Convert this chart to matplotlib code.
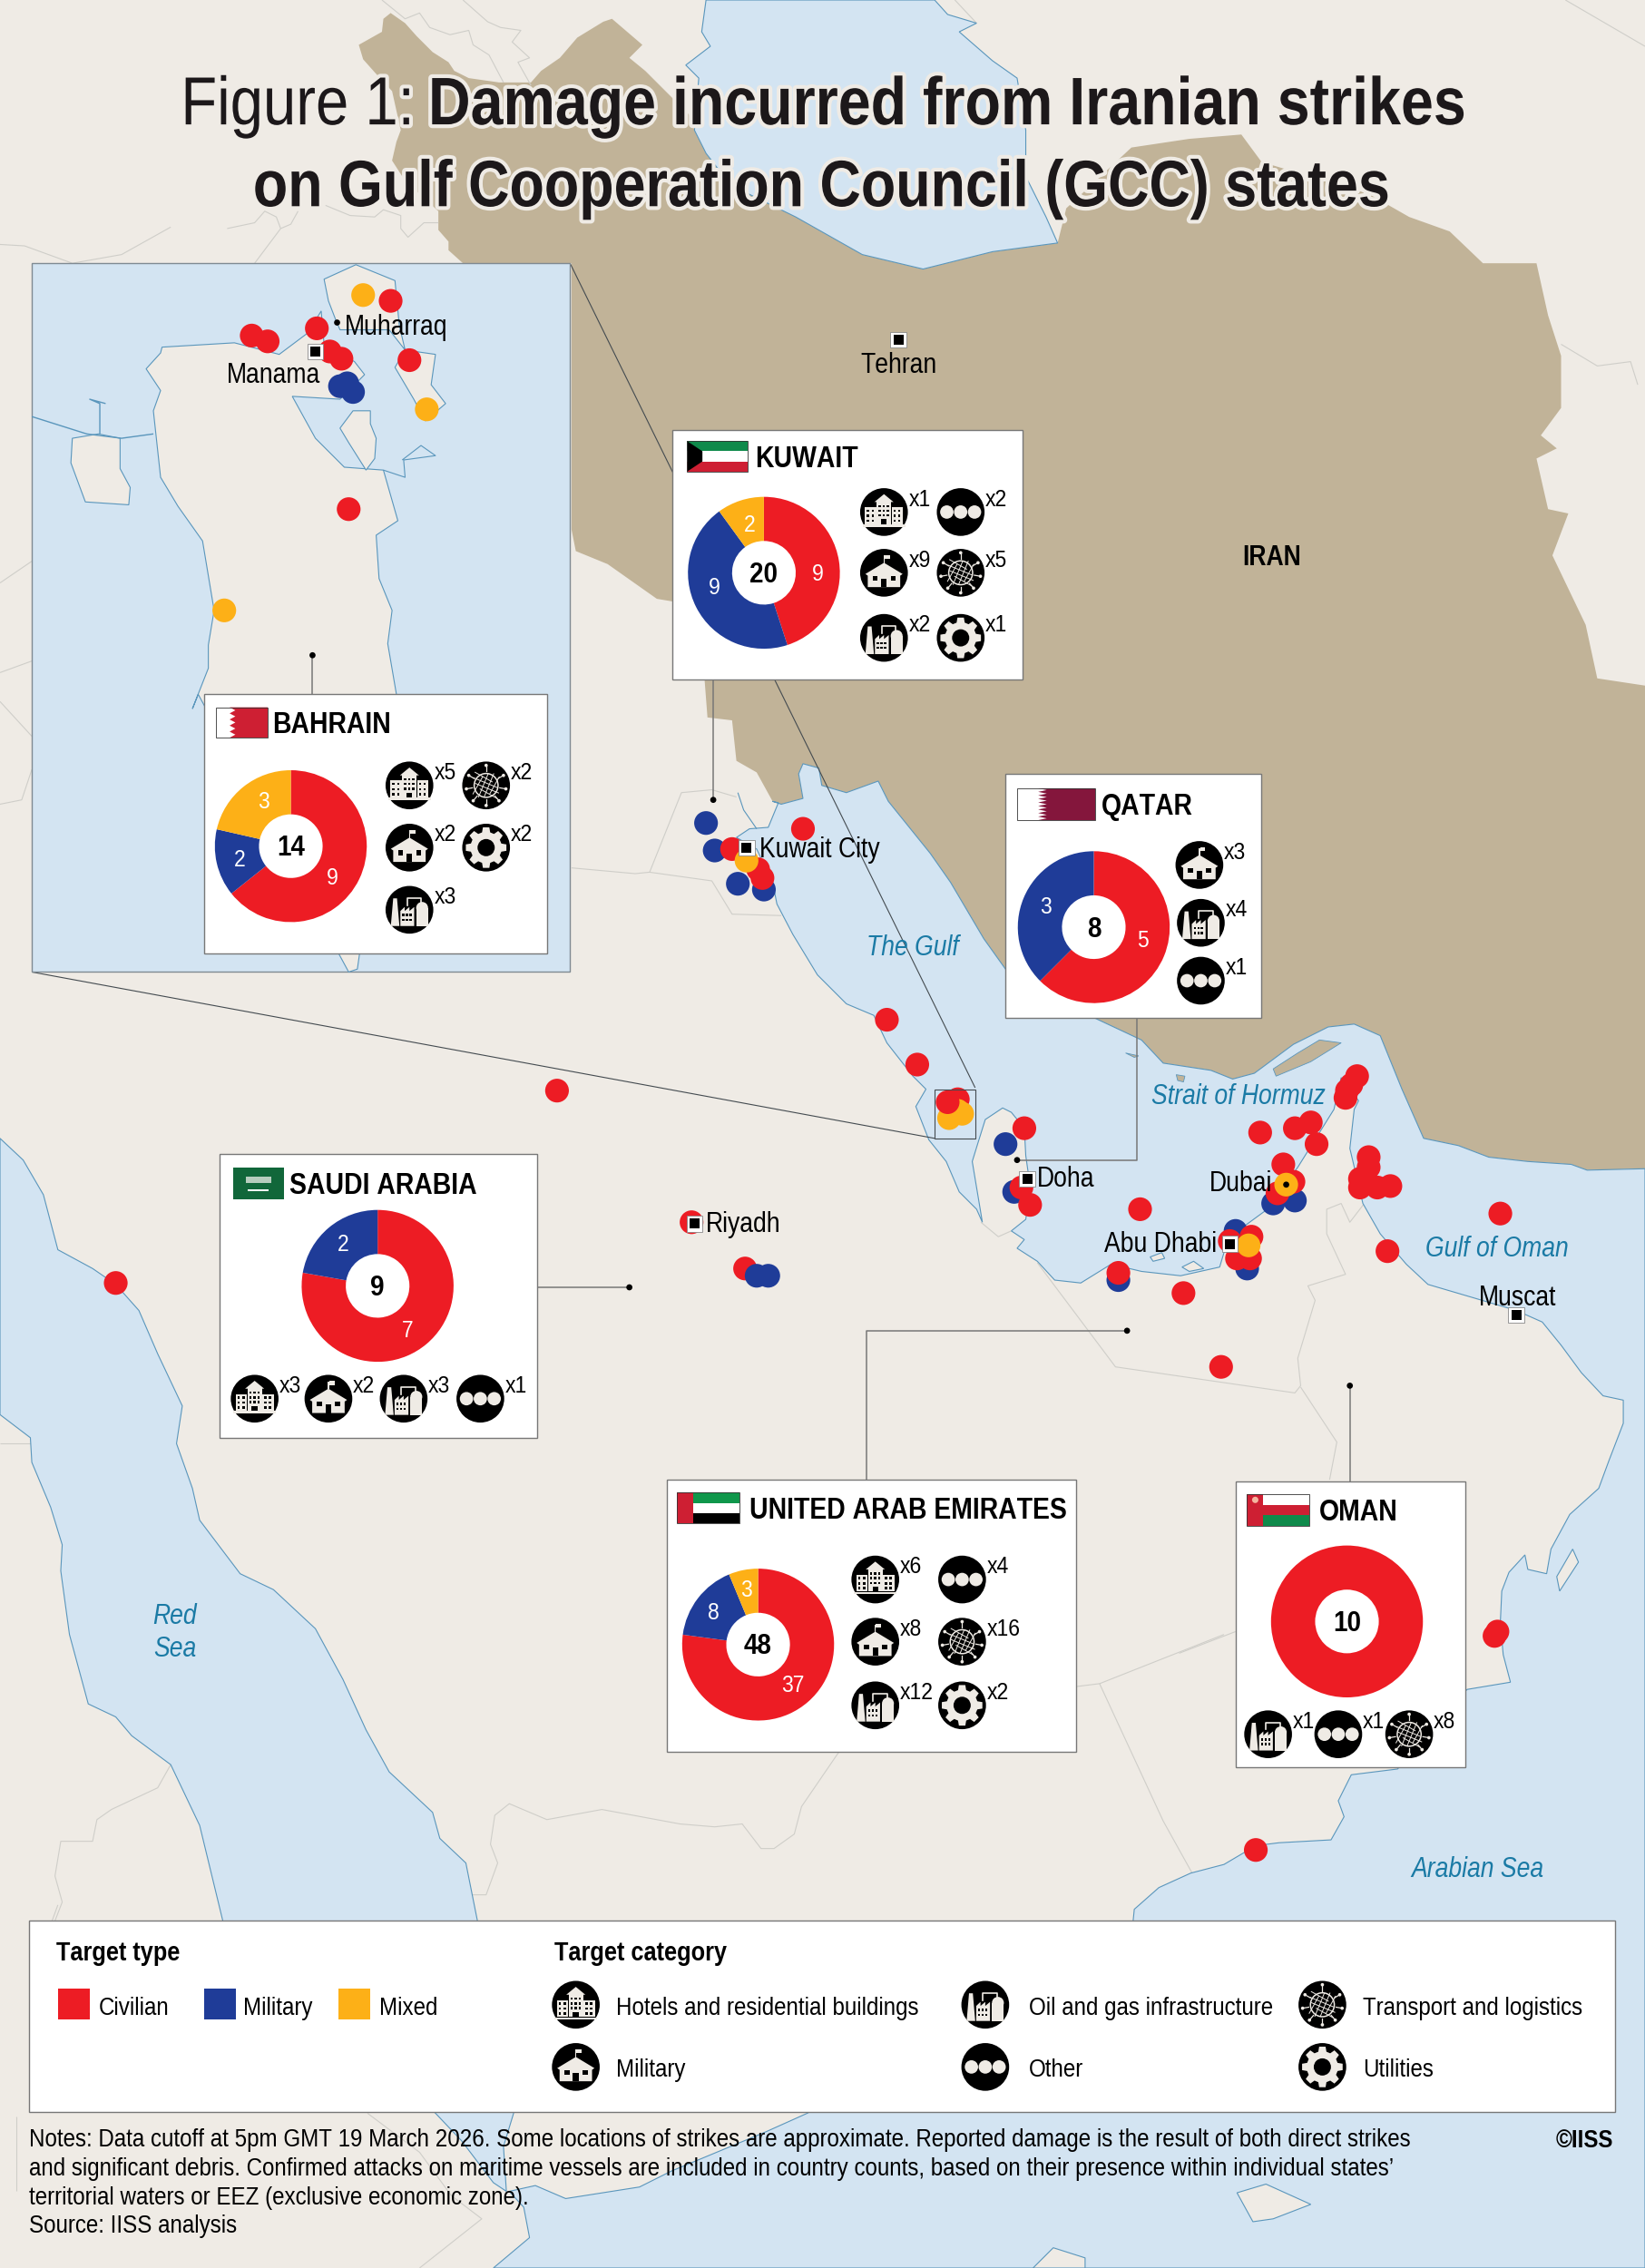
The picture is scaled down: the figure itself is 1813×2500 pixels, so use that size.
import numpy as np
import matplotlib
matplotlib.use('Agg')
import matplotlib.pyplot as plt
from matplotlib import font_manager as fm
from matplotlib.patches import Polygon, Circle, Rectangle, Wedge
import matplotlib.patheffects as pe

# Condensed face built from Liberation Sans, since no narrow family is installed
NARROW = ['Liberation Sans', 'DejaVu Sans']
try:
    from fontTools.ttLib import TTFont
    from fontTools.pens.ttGlyphPen import TTGlyphPen
    from fontTools.pens.transformPen import TransformPen
    from fontTools.pens.recordingPen import DecomposingRecordingPen
    SX = 0.87
    for tag, kw in (('r', dict(weight='normal', style='normal')), ('b', dict(weight='bold', style='normal')), ('i', dict(weight='normal', style='italic'))):
        path = fm.findfont(fm.FontProperties(family='Liberation Sans', **kw), fallback_to_default=False)
        f = TTFont(path)
        gs = f.getGlyphSet(); glyf = f['glyf']; hmtx = f['hmtx']
        new = {}
        for name in f.getGlyphOrder():
            rec = DecomposingRecordingPen(gs); gs[name].draw(rec)
            pen = TTGlyphPen(None); rec.replay(TransformPen(pen, (SX, 0, 0, 1, 0, 0)))
            new[name] = pen.glyph()
        for name, g in new.items():
            glyf[name] = g
            adv, lsb = hmtx[name]
            hmtx[name] = (int(round(adv * SX)), int(round(lsb * SX)))
        for t in ('fpgm', 'prep', 'cvt ', 'kern', 'GPOS', 'GSUB', 'GDEF', 'hdmx', 'VDMX', 'LTSH', 'gasp'):
            if t in f: del f[t]
        for rec in f['name'].names:
            if rec.nameID in (1, 16): rec.string = 'LibCond'
            elif rec.nameID == 4: rec.string = 'LibCond ' + tag
            elif rec.nameID == 6: rec.string = 'LibCond-' + tag
        f.save(f'libcond_{tag}.ttf')
        fm.fontManager.addfont(f'libcond_{tag}.ttf')
    NARROW = ['LibCond', 'Liberation Sans', 'DejaVu Sans']
except Exception:
    pass

LAND, WATER, IRAN = '#EFEBE5', '#D3E4F2', '#C1B398'
COAST, BORDER = '#5A96BC', '#CFCEC9'
RED, BLUE, AMBER = '#ED1C24', '#1F3C98', '#FDB017'
SEA_TXT = '#1A7AA5'
TYPE_COLOR = {'c': RED, 'm': BLUE, 'x': AMBER}

# ---- map outlines ----
iran_north = [(248,31),(264,22),(265,13),(270,9),(280,16),(288,25),(299,36),(310,43),(314,49),(324,54),(345,57),(367,57),(374,49),(387,40),(399,26),(417,15),(423,13),(444,31),(435,40),(446,49),
 (477,80),(480,90),(488,106),(505,128),(550,150),(596,176),(638,186),(686,174),(731,168),(737,144),(782,102),(822,96),(858,93),
 (872,112),(946,134),(974,150),(1002,160),(1025,182),(1062,182),(1070,218),(1079,246),(1079,282),(1065,301),(1076,310),(1062,317),
 (1070,352),(1084,355),(1073,384),(1096,432),(1104,469),(1137,474)]
iran_west = [(251,41),(259,50),(271,63),(277,90),(274,98),(271,111),(280,125),(303,146),(303,159),(310,167),(310,173),(320,182),(395,182),(395,366),(398,381),(420,390),(454,414),(466,416),(487,470),(489,496),(506,498),(509,526),(523,534)]
iran_coast = [(534,554),(540,556),(555,552),(552,535),(555,528),(566,531),(568,543),(585,548),(607,540),(614,554),(643,590),(657,610),(680,649),(695,670),
 (757,704),(789,719),(804,735),(837,740),(852,746),(867,742),(894,722),(918,710),(936,708),(954,716),(969,753),(984,787),(1008,792),(1029,800),(1056,803),(1086,805),(1097,809),(1137,808)]
arabia_coast = [(1137,1568),(341,1568),(366,1547),(362,1526),(352,1515),(370,1511),(391,1520),(442,1512),(464,1501),(529,1474),(558,1461),(783,1330),(784,1320),(801,1305),(823,1295),(846,1289),
 (868,1276),(884,1274),(920,1272),(929,1256),(925,1245),(934,1227),(966,1223),(1014,1168),(1044,1163),(1039,1144),(1037,1122),(1038,1100),(1043,1087),(1054,1075),(1056,1085),(1069,1088),
 (1072,1071),(1085,1047),(1105,1029),(1112,1010),(1122,984),(1122,968),(1108,965),(1093,949),(1079,930),(1066,914),(1048,906),(1021,898),(987,888),(972,874),(954,853),(942,832),(933,794),
 (936,767),(939,761),(927,745),(922,767),(897,807),(876,836),(861,847),(846,866),(843,876),(816,882),(789,879),(768,874),(747,887),(729,885),(717,872),(703,863),(708,857),(699,851),
 (709,843),(712,820),(709,799),(708,780),(699,769),(693,766),(681,774),(676,790),(672,803),(679,845),(675,836),(663,824),(654,803),(642,788),(633,765),(640,753),(631,744),(613,721),(604,702),(585,694),
 (565,674),(548,646),(537,625),(534,610),(523,587),(509,579),(518,573),(531,572),(538,555)]
red_sea = [(0,787),(16,802),(30,826),(40,864),(64,877),(80,888),(96,906),(109,936),(126,972),(122,998),(133,1029),(138,1051),(166,1088),(189,1099),(218,1126),(237,1161),(253,1196),(269,1225),
 (299,1253),(304,1271),(322,1288),(330,1328),(355,1461),(348,1484),(350,1515),(341,1509),(319,1480),(301,1461),(154,1328),(138,1262),(118,1220),(91,1200),(80,1187),(61,1178),(48,1130),(42,1086),(43,1068),(35,1042),(22,1011),(21,994),(0,978)]
caspian = [(488,0),(485,22),(491,32),(474,45),(483,54),(480,90),(488,106),(505,128),(550,150),(596,176),(638,186),(686,174),(731,168),(723,150),(709,122),(709,90),(703,54),(686,42),(663,22),(675,16),(655,10),(646,0)]
land_islands = [[(855,1516),(875,1510),(906,1524),(880,1534),(866,1536)],
 [(1087,1071),(1091,1080),(1078,1100),(1076,1090)],[(714,1568),(728,1554),(750,1561),(750,1568)],
 [(817,876),(825,872),(832,877),(822,879)],[(795,869),(803,866),(805,870),(797,872)]]
iran_islands = [[(880,739),(897,728),(912,719),(927,721),(906,734),(882,744)],[(813,743),(819,744),(818,748),(814,747)],[(778,728),(787,730),(784,731)]]
kuwait_bay = [(510,548),(514,560),(523,573)]
borders = [
 [(0,169),(17,170),(50,182),(84,176),(118,157)],[(157,158),(176,154),(183,146),(191,150),(194,158),(176,182)],[(194,158),(201,155),(206,146)],
 [(225,142),(242,149),(259,150),(265,145),(277,149),(277,158),(282,164),(293,154),(303,154)],
 [(264,0),(280,13),(290,9),(297,19),(311,24),(324,21),(327,31),(338,38),(348,57)],
 [(320,0),(337,15),(346,19),(360,21),(354,29),(366,40),(358,43),(367,59)],
 [(0,403),(22,388)],[(0,465),(22,457)],[(0,485),(22,509)],[(0,556),(15,553),(22,532)],
 [(395,600),(439,604),(449,603),(471,548),(492,546),(509,551)],[(449,603),(492,609),(506,632),(540,633)],
 [(678,845),(690,855),(699,851)],
 [(717,873),(771,945),(895,963),(899,958),(897,939),(909,899),(904,889),(930,881),(917,853),(917,836),(927,832),(933,845),(943,832)],
 [(899,959),(924,997),(919,1023)],[(815,1143),(854,1128)],[(744,1166),(760,1164),(846,1130)],[(760,1164),(804,1259),(824,1295)],
 [(580,1211),(554,1249),(549,1268),(535,1278),(526,1278),(513,1261),(494,1263),(470,1261),(416,1251),(378,1258),(352,1247),(342,1255),(339,1275),(344,1288),(336,1310),(326,1310)],
 [(0,998),(22,998)],[(118,1220),(109,1236),(77,1251),(67,1258),(64,1273),(42,1273),(38,1297),(43,1315),(38,1328)],
 [(254,1461),(290,1488),(312,1518),(333,1534),(290,1568)],[(40,1317),(36,1328)],[(11,1463),(11,1515)],
 [(1082,0),(1137,32)],[(1079,238),(1104,253),(1127,250),(1132,266)],[(660,0),(675,16)],
]
# ---- inset outlines (Bahrain) ----
bahrain_main = [(112,240),(162,237),(193,245),(213,230),(222,215),(224,238),(245,250),(252,259),(235,276),(202,274),(218,303),(238,323),(265,325),(275,360),(260,370),(262,400),(271,422),(268,445),(274,480),
 (247,670),(247,670),(241,672),(137,480),(133,490),(144,462),(144,446),(148,422),(144,398),(140,374),(123,350),(111,330),(106,284),(111,270),(101,255),(111,244)]
muharraq = [(224,193),(246,183),(273,194),(276,225),(280,242),(301,245),(298,266),(308,279),(294,291),(286,276),(273,254),(280,242),(269,228),(235,228),(232,221),(227,208)]
sitra = [(235,296),(244,284),(256,284),(256,293),(260,303),(259,317),(253,325),(241,306)]
umm_nasan = [(50,303),(68,300),(83,303),(83,324),(90,337),(89,349),(59,347),(49,320)]
causeway = [(22,288),(60,300),(84,303),(106,300)]
nabih = [(69,300),(69,279),(62,276),(73,279)]
sitra_spit = [(265,325),(280,330),(279,318),(301,315),(291,308),(278,318)]
# ---- strikes ----
inset_x = [251,270,174,185,219,228,236,235,240,244,283,295,241,155]
inset_y = [204,208,232,236,227,243,248,267,265,271,249,283,352,422]
inset_t = ['x','c','c','c','c','c','c','m','m','m','c','x','c','x']
strike_x = [488,494,510,528,506,524,527,516,555,613,634,
            662,662,665,656,655,708,695,701,706,712,788,871,895,906,910,887,880,895,894,883,889,
            938,934,930,931,946,946,940,940,952,961,1037,959,
            854,862,850,865,855,864,863,773,773,818,844,385,478,515,523,531,80,1035,1033,868]
strike_y = [569,588,611,615,587,601,607,595,573,705,736,
            760,768,770,773,762,780,791,824,821,833,836,783,780,776,791,805,832,830,817,825,819,
            744,750,759,754,800,807,815,821,821,820,839,865,
            851,877,858,855,870,870,861,885,880,894,945,754,845,877,882,882,887,1128,1131,1279]
strike_t = ['m','m','m','m','c','c','c','x','c','c','c',
            'c','x','x','x','c','c','m','m','c','c','c','c','c','c','c','c','m','m','c','c','x',
            'c','c','c','c','c','c','c','c','c','c','c','c',
            'm','m','c','c','c','c','x','m','c','c','c','c','c','c','m','m','c','c','c','c']
# ---- country panels ----
kuwait_vals = [9,9,2]; bahrain_vals = [9,2,3]; qatar_vals = [5,3,0]; saudi_vals = [7,2,0]; uae_vals = [37,8,3]; oman_vals = [10,0,0]
kuwait_cats = ['hotel','other','military','transport','oil','gear']; kuwait_n = [1,2,9,5,2,1]
bahrain_cats = ['hotel','transport','military','gear','oil']; bahrain_n = [5,2,2,2,3]
qatar_cats = ['military','oil','other']; qatar_n = [3,4,1]
saudi_cats = ['hotel','military','oil','other']; saudi_n = [3,2,3,1]
uae_cats = ['hotel','other','military','transport','oil','gear']; uae_n = [6,4,8,16,12,2]
oman_cats = ['oil','other','transport']; oman_n = [1,1,8]
legend_types = ['Civilian','Military','Mixed']
legend_cats = ['Hotels and residential buildings','Military','Oil and gas infrastructure','Other','Transport and logistics','Utilities']

fig = plt.figure(figsize=(18.13,25), dpi=100, facecolor=LAND)
ax = fig.add_axes([0,0,1,1]); ax.set_xlim(0,1137); ax.set_ylim(1568,0); ax.axis('off')

def T(x,y,s,size=22,weight='normal',color='k',ha='left',va='center',style='normal',z=30,halo=None,family=None):
    t = ax.text(x,y+size*0.07,s,fontsize=size,fontweight=weight,color=color,ha=ha,va=va,style=style,zorder=z,family=family or NARROW)
    if halo: t.set_path_effects([pe.withStroke(linewidth=halo,foreground=LAND)])
    return t
def P(pts,fc,ec='none',lw=0,z=1):
    ax.add_patch(Polygon(pts,closed=True,fc=fc,ec=ec,lw=lw,zorder=z))
def L(pts,c=BORDER,lw=0.8,z=2):
    a=np.array(pts); ax.plot(a[:,0],a[:,1],color=c,lw=lw,zorder=z,solid_capstyle='butt')

# base map
for b in borders: L(b)
P(iran_north+[(1137,808)]+iran_coast[::-1]+iran_west[::-1],IRAN,z=1)
P(iran_coast+arabia_coast,WATER,COAST,0.8,z=3)
P(red_sea,WATER,COAST,0.8,z=3)
P(caspian,WATER,COAST,0.8,z=3)
L(kuwait_bay,COAST,0.8,z=4)
for i in land_islands: P(i,LAND,COAST,0.8,z=4)
for i in iran_islands: P(i,IRAN,COAST,0.6,z=4)
for a,b,c in zip(strike_x,strike_y,strike_t):
    ax.add_patch(Circle((a,b),8.2,fc=TYPE_COLOR[c],ec='none',zorder=6))

# inset
ax.add_patch(Rectangle((22,182),372,490,fc=WATER,ec='#7F8A92',lw=1,zorder=10))
for poly in (bahrain_main,muharraq,sitra,umm_nasan):
    P(poly,LAND,COAST,0.8,z=11)
L(causeway,COAST,1.0,z=11); L(nabih,COAST,1.0,z=11); L(sitra_spit,COAST,0.8,z=11)
for a,b,c in zip(inset_x,inset_y,inset_t):
    ax.add_patch(Circle((a,b),8.2,fc=TYPE_COLOR[c],ec='none',zorder=12))

# leaders
LEAD='#444B50'
L([(394,182),(674,752)],LEAD,0.8,z=7)
L([(22,672),(646,787)],LEAD,0.8,z=7)
ax.add_patch(Rectangle((646,753),28,34,fc='none',ec=LEAD,lw=0.8,zorder=7))
L([(493,470),(493,553)],'#777',1.1,z=7); L([(216,453),(216,480)],'#777',1.1,z=13)
L([(786,704),(786,802),(703,802)],'#777',1.1,z=7); L([(371,890),(435,890)],'#777',1.1,z=7)
L([(599,1023),(599,920),(779,920)],'#777',1.1,z=7); L([(933,1024),(933,958)],'#777',1.1,z=7)
for p in [(493,553),(703,802),(435,890),(779,920),(933,958),(889,819)]:
    ax.add_patch(Circle(p,2.1,fc='k',zorder=8))
ax.add_patch(Circle((216,453),2.1,fc='k',zorder=14)); ax.add_patch(Circle((233,223),2.1,fc='k',zorder=14))

def city(x,y,z=9):
    ax.add_patch(Rectangle((x-5.5,y-5.5),11,11,fc='white',ec='#888',lw=0.6,zorder=z))
    ax.add_patch(Rectangle((x-3.4,y-3.4),6.8,6.8,fc='k',zorder=z+0.1))
for c in [(516,586),(480,846),(710,815),(850,860),(1048,909),(621,235)]: city(*c)
city(218,243,z=14)

LBL=22
T(621,251,'Tehran',LBL,ha='center'); T(879,384,'IRAN',LBL,'bold',ha='center')
T(525,586,'Kuwait City',LBL); T(157,258,'Manama',LBL); T(238,225,'Muharraq',LBL)
T(717,814,'Doha',LBL); T(836,817,'Dubai',LBL); T(763,859,'Abu Dhabi',LBL); T(488,845,'Riyadh',LBL); T(1049,896,'Muscat',LBL,ha='center')
for x,y,s in [(631,654,'The Gulf'),(856,757,'Strait of Hormuz'),(1035,862,'Gulf of Oman'),(121,1116,'Red'),(121,1139,'Sea'),(1021,1291,'Arabian Sea')]:
    T(x,y,s,LBL,color=SEA_TXT,style='italic',ha='center')

# title
INK='#1C181A'
T(125,70,'Figure 1:',54,'normal',ha='left',halo=6,color=INK)
T(296,70,'Damage incurred from Iranian strikes',53.4,'bold',ha='left',halo=6,color=INK)
T(568,127,'on Gulf Cooperation Council (GCC) states',52,'bold',ha='center',halo=6,color=INK)

G=LAND
def icon(kind,cx,cy,r=16.5,z=24):
    ax.add_patch(Circle((cx,cy),r,fc='k',zorder=z))
    def R(x,y,w,h,c=G,zz=z+.1): ax.add_patch(Rectangle((cx+x*r,cy+y*r),w*r,h*r,fc=c,ec='none',zorder=zz))
    def Pg(pts,c=G,zz=z+.1): ax.add_patch(Polygon([(cx+a*r,cy+b*r) for a,b in pts],fc=c,ec='none',zorder=zz))
    def C(x,y,rr,c=G,zz=z+.1): ax.add_patch(Circle((cx+x*r,cy+y*r),rr*r,fc=c,ec='none',zorder=zz))
    if kind=='hotel':
        R(-.3,-.45,.6,.95); Pg([(-.4,-.42),(0,-.75),(.4,-.42)]); R(-.8,-.2,.47,.7); R(.33,-.2,.47,.7); R(-.9,.52,1.8,.1)
        for xx in (-.66,-.46,.45,.65):
            for yy in (-.05,.17,.38): R(xx-.06,yy-.06,.1,.1,'k',z+.2)
        for xx in (-.17,.0,.17):
            for yy in (-.25,-.05,.15): R(xx-.05,yy-.05,.09,.09,'k',z+.2)
        R(-.12,.3,.24,.22,'k',z+.2)
    elif kind=='military':
        Pg([(-.78,.05),(0,-.42),(.78,.05),(.68,.12),(.68,.6),(-.68,.6),(-.68,.12)])
        R(-.02,-.72,.05,.32); R(.03,-.74,.22,.16)
        R(-.48,.12,.22,.2,'k',z+.2); R(.28,.12,.22,.2,'k',z+.2); R(-.12,.25,.24,.35,'k',z+.2)
    elif kind=='oil':
        Pg([(-.78,.68),(-.68,-.48),(-.52,-.48),(-.42,.68)])
        Pg([(-.38,.68),(-.38,.05),(-.2,-.12),(-.2,.05),(0,-.12),(0,.05),(.2,-.12),(.2,.68)])
        R(.28,-.08,.5,.76); C(.53,-.08,.25)
        L_pts=[(-.1,-.2),(-.1,-.5),(.5,-.5),(.5,-.3)]
        ax.plot([cx+a*r for a,b in L_pts],[cy+b*r for a,b in L_pts],color=G,lw=1.2,zorder=z+.1)
        for xx in (-.25,-.1,.05):
            for yy in (.22,.42): R(xx-.05,yy-.05,.09,.1,'k',z+.2)
    elif kind=='other':
        for xx in (-.58,0,.58): C(xx,0,.28)
    elif kind=='transport':
        ax.add_patch(Circle((cx,cy),.5*r,fc='none',ec=G,lw=1.1,zorder=z+.1))
        for k in np.linspace(-.35,.35,4):
            w=np.sqrt(.25-k*k)
            ax.plot([cx-w*r+k*r*.3,cx+w*r+k*r*.3],[cy+(k-.2)*r,cy+(k+.2)*r],color=G,lw=.7,zorder=z+.1)
            ax.plot([cx+(k-.2)*r,cx+(k+.2)*r],[cy+w*r,cy-w*r],color=G,lw=.7,zorder=z+.1)
        for ang in np.deg2rad([-90,-150,-30,170,10,90,130,50]):
            a,b=np.cos(ang),np.sin(ang)
            ax.plot([cx+.58*a*r,cx+.82*a*r],[cy+.58*b*r,cy+.82*b*r],color=G,lw=.9,zorder=z+.1)
            C(.84*a,.84*b,.07)
    elif kind=='gear':
        pts=[]
        for i in range(8):
            m=np.deg2rad(i*45)
            for d,rad in ((-15,.66),(-9,.86),(9,.86),(15,.66)):
                pts.append((rad*np.cos(m+np.deg2rad(d)),rad*np.sin(m+np.deg2rad(d))))
        Pg(pts); C(0,0,.36,'k',z+.2)

def panel(x0,y0,x1,y1,title,tx,flag,flagbox,vals,c,R,total,labels,cats,counts,cells,lab_dx=17,lab_dy=-10):
    ax.add_patch(Rectangle((x0,y0),x1-x0,y1-y0,fc='white',ec='#777',lw=1,zorder=20))
    fx0,fy0,fx1,fy1=flagbox; w,h=fx1-fx0,fy1-fy0
    flag(fx0,fy0,w,h)
    T(tx,(fy0+fy1)/2+.5,title,23.5,'bold',z=25)
    a=-90; tot=sum(vals)
    for v,col in zip(vals,(RED,BLUE,AMBER)):
        if v==0: continue
        ax.add_patch(Wedge(c,R,a,a+360*v/tot,width=R-22,fc=col,ec='none',zorder=22)); a+=360*v/tot
    T(c[0],c[1],str(total),23,'bold',ha='center',z=25)
    for (lx,ly),v in zip(labels,[q for q in vals if q]):
        T(lx,ly,str(v),19,color='white',ha='center',z=25)
    for kind,n,(ix,iy) in zip(cats,counts,cells):
        icon(kind,ix,iy)
        T(ix+lab_dx,iy+lab_dy,'x%d'%n,19,z=25)

def R_(x,y,w,h,c,z=22): ax.add_patch(Rectangle((x,y),w,h,fc=c,ec='none',zorder=z))
def frame(x,y,w,h): ax.add_patch(Rectangle((x,y),w,h,fc='none',ec='#333',lw=.6,zorder=23))
def fl_kw(x,y,w,h):
    R_(x,y,w,h/3,'#0F8A4B'); R_(x,y+h/3,w,h/3,'white'); R_(x,y+2*h/3,w,h/3,'#CE1F33')
    ax.add_patch(Polygon([(x,y),(x+w*.25,y+h/3),(x+w*.25,y+2*h/3),(x,y+h)],fc='k',zorder=22.5)); frame(x,y,w,h)
def fl_serr(x,y,w,h,col,n,ratio):
    R_(x,y,w,h,'white')
    pts=[(x+w,y),(x+w,y+h)]
    for i in range(n,-1,-1):
        pts.append((x+w*ratio,y+h*i/n))
        if i: pts.append((x+w*(ratio+.11),y+h*(i-.5)/n))
    ax.add_patch(Polygon(pts,fc=col,ec='none',zorder=22.5)); frame(x,y,w,h)
def fl_bh(x,y,w,h): fl_serr(x,y,w,h,'#CE1F33',5,.27)
def fl_qa(x,y,w,h): fl_serr(x,y,w,h,'#84163C',9,.27)
def fl_sa(x,y,w,h):
    R_(x,y,w,h,'#11673A')
    R_(x+w*.25,y+h*.3,w*.5,h*.18,'#B7CDBE',z=22.5); R_(x+w*.3,y+h*.7,w*.4,h*.04,'white',z=22.5)
def fl_ae(x,y,w,h):
    R_(x,y,w,h/3,'#0F974B'); R_(x,y+h/3,w,h/3,'white'); R_(x,y+2*h/3,w,h/3,'k'); R_(x,y,w*.26,h,'#CE1F33',z=22.5); frame(x,y,w,h)
def fl_om(x,y,w,h):
    R_(x,y,w,h/3,'white'); R_(x,y+h/3,w,h/3,'#CE1F33'); R_(x,y+2*h/3,w,h/3,'#0F8A4B'); R_(x,y,w*.25,h,'#CE1F33',z=22.5)
    ax.add_patch(Circle((x+w*.13,y+h*.18),h*.1,fc='#F4B6A0',zorder=22.6)); frame(x,y,w,h)

panel(465,297,707,470,'KUWAIT',522,fl_kw,(475,305,517,326),kuwait_vals,(528,396),52.5,20,[(565,396),(494,405),(518,362)],kuwait_cats,kuwait_n,
      [(611,354),(664,354),(611,396),(664,396),(611,441),(664,441)])
panel(141,480,378,659,'BAHRAIN',188,fl_bh,(149,489,185,510),bahrain_vals,(201,585),52.5,14,[(230,606),(166,593),(182,553)],bahrain_cats,bahrain_n,
      [(283,543),(336,543),(283,586),(336,586),(283,629)])
panel(695,535,872,704,'QATAR',761,fl_qa,(703,545,757,567),qatar_vals,(756,641),52.5,8,[(790,649),(723,626)],qatar_cats,qatar_n,
      [(829,598),(830,638),(830,678)])
panel(152,798,371,994,'SAUDI ARABIA',200,fl_sa,(161,807,196,829),saudi_vals,(261,889),52.5,9,[(282,919),(237,859)],saudi_cats,saudi_n,
      [(176,967),(227,967),(279,967),(332,967)])
panel(461,1023,744,1211,'UNITED ARAB EMIRATES',518,fl_ae,(468,1032,511,1053),uae_vals,(524,1137),52.5,48,[(548,1164),(493,1114),(516,1098)],uae_cats,uae_n,
      [(605,1092),(665,1092),(605,1135),(665,1135),(605,1179),(665,1179)])
panel(854,1024,1013,1222,'OMAN',912,fl_om,(862,1033,905,1055),oman_vals,(931,1121),52.5,10,[],oman_cats,oman_n,
      [(876.5,1199),(925,1199),(974,1199)])

# legend
ax.add_patch(Rectangle((20,1328),1096,132,fc='white',ec='#777',lw=1,zorder=20))
T(39,1349,'Target type',21,'bold'); T(383,1349,'Target category',21,'bold')
for x,c,s,tx in zip((40,141,234),(RED,BLUE,AMBER),legend_types,(68,168,262)):
    R_(x,1375,22,21,c,z=24); T(tx,1387,s,20)
for (ix,iy,tx),kind,s in zip([(398,1386,426),(398,1429,426),(681,1386,711),(681,1429,711),(914,1386,942),(914,1429,942)],
                             ['hotel','military','oil','other','transport','gear'],legend_cats):
    icon(kind,ix,iy); T(tx,iy+1,s,20)

# notes
for y,s in zip((1478,1498,1518,1538),('Notes: Data cutoff at 5pm GMT 19 March 2026. Some locations of strikes are approximate. Reported damage is the result of both direct strikes',
 'and significant debris. Confirmed attacks on maritime vessels are included in country counts, based on their presence within individual states’',
 'territorial waters or EEZ (exclusive economic zone).','Source: IISS analysis')):
    T(20,y,s,20)
T(1115,1479,'©IISS',20,'bold',ha='right')
fig.savefig('out.png',dpi=100,facecolor=LAND)
